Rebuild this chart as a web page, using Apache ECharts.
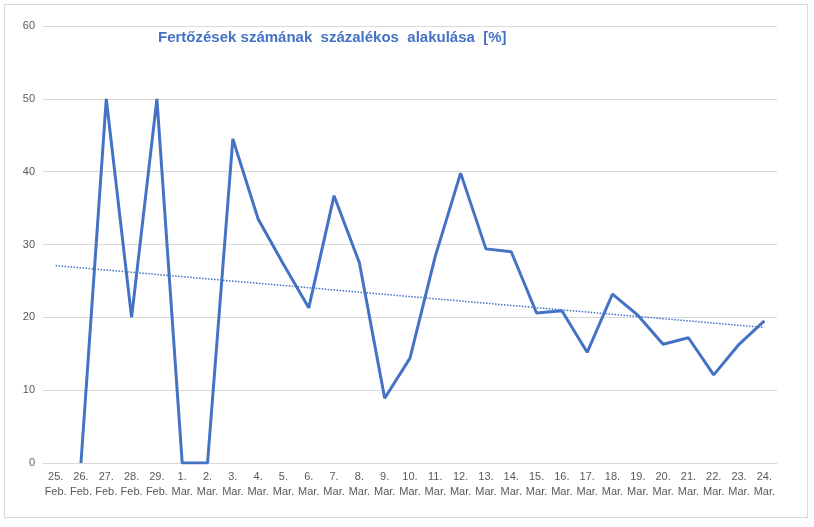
<!DOCTYPE html>
<html>
<head>
<meta charset="UTF-8">
<script src="https://cdn.jsdelivr.net/npm/echarts@6/dist/echarts.min.js"></script>
<style>
html,body{margin:0;padding:0;background:#fff;}
#main{position:absolute;left:4px;top:4px;width:802px;height:512px;border:1px solid #d9d9d9;}
</style>
</head>
<body>
<div id="main"></div>
<script>
var days = ['25.\nFeb.','26.\nFeb.','27.\nFeb.','28.\nFeb.','29.\nFeb.','1.\nMar.','2.\nMar.','3.\nMar.','4.\nMar.','5.\nMar.','6.\nMar.','7.\nMar.','8.\nMar.','9.\nMar.','10.\nMar.','11.\nMar.','12.\nMar.','13.\nMar.','14.\nMar.','15.\nMar.','16.\nMar.','17.\nMar.','18.\nMar.','19.\nMar.','20.\nMar.','21.\nMar.','22.\nMar.','23.\nMar.','24.\nMar.'];
var values = [null,0,50,20,50,0,0,44.5,33.5,27.3,21.3,36.7,27.5,8.9,14.4,28.4,39.8,29.4,29,20.6,20.9,15.2,23.2,20.3,16.3,17.2,12.1,16.3,19.5];
var trendStart = 27.1;
var trendEnd = 18.6;

var trend = days.map(function (d, i) {
    if (i === 0) return trendStart;
    if (i === days.length - 1) return trendEnd;
    return null;
});

var myChart = echarts.init(document.getElementById('main'));
var option = {
    animation: false,
    title: {
        text: 'Fertőzések számának  százalékos  alakulása  [%]',
        left: 148,
        top: 20,
        textStyle: {color: '#4472c4', fontSize: 15, fontWeight: 'bold', fontFamily: 'Liberation Sans'}
    },
    grid: {left: 38, right: 30, top: 21, bottom: 54},
    xAxis: {
        type: 'category',
        data: days,
        axisLine: {lineStyle: {color: '#d9d9d9'}},
        axisTick: {show: false},
        axisLabel: {color: '#595959', fontSize: 11, interval: 0, lineHeight: 15, margin: 6}
    },
    yAxis: {
        type: 'value',
        min: 0, max: 60, interval: 10,
        axisLine: {show: false},
        axisTick: {show: false},
        splitLine: {lineStyle: {color: '#d9d9d9'}},
        axisLabel: {color: '#595959', fontSize: 11}
    },
    series: [
        {
            type: 'line',
            data: values,
            symbol: 'none',
            lineStyle: {color: '#4472c4', width: 3},
            label: {
                show: true,
                position: 'right',
                offset: [2, 2],
                color: '#ff0000',
                fontSize: 11,
                fontWeight: 'bold',
                formatter: function (p) { return Math.round(p.value); }
            }
        },
        {
            type: 'line',
            data: trend,
            connectNulls: true,
            symbol: 'none',
            lineStyle: {color: '#4472c4', width: 1.5, type: 'dotted'}
        }
    ]
};
myChart.setOption(option);
</script>
</body>
</html>
